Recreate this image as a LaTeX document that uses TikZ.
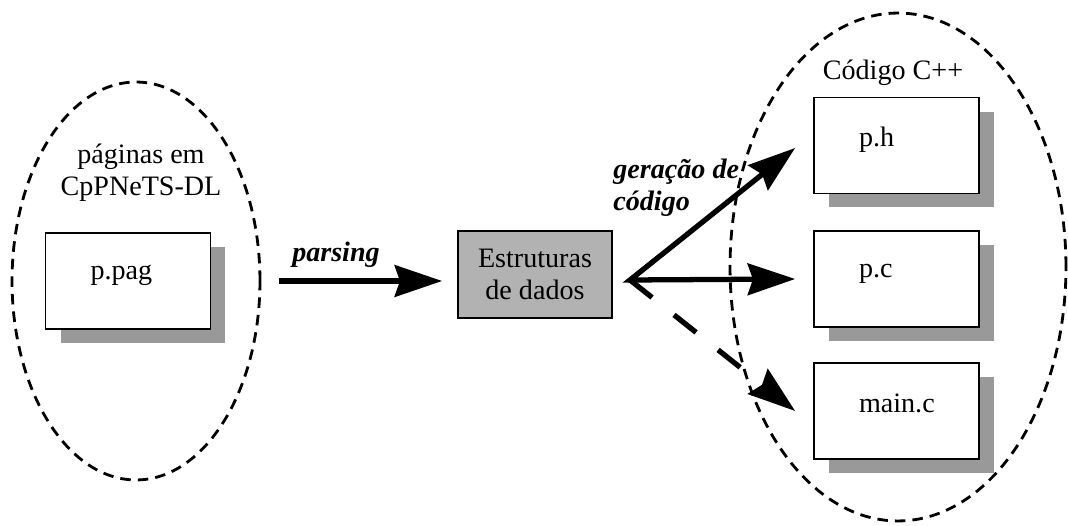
\documentclass[tikz,border=0pt]{standalone}
\usepackage{fontspec}
\setmainfont{Liberation Serif}
\usepackage{tikz}
\usetikzlibrary{positioning}
\usetikzlibrary{arrows.meta,shadows,shapes.geometric}
\tikzstyle{fb} = [rectangle, draw, fill=white, line width=1pt,
    minimum width=3.3cm, minimum height=1.92cm, text width=1.5cm, inner xsep=0.9cm,
    align=left, text depth=0.33cm,
    drop shadow={shadow xshift=0.3cm, shadow yshift=-0.28cm, fill=black!40, opacity=1}]
\tikzstyle{ds} = [rectangle, draw, fill=black!30, line width=1pt,
    minimum width=3.08cm, minimum height=1.74cm, align=center]
\tikzstyle{grp} = [ellipse, draw, line width=1.6pt, dash pattern=on 6pt off 4pt]
\tikzstyle{flow} = [->, line width=3pt]
\tikzstyle{lb} = [font=\fontsize{16}{18}\selectfont\bfseries\itshape]

\begin{document}
\begin{tikzpicture}[x=0.02cm, y=-0.02cm,
                    >={Stealth[length=27pt,width=18pt,inset=3pt]},
                    font=\fontsize{16}{18}\selectfont]
  \useasboundingbox (0,0) rectangle (1068,526);

  % the two groups
  \node[grp, minimum width=4.96cm, minimum height=7.96cm] (pgs) at (136,281) {};
  \node[grp, minimum width=6.72cm, minimum height=10.16cm] (cpp) at (898,267) {};
  \node[align=center] (tpgs) at (141,173) {páginas em\\CpPNeTS-DL};
  \node[anchor=base] (tcpp) at (893,80) {Código C++};

  \node[fb] (pag) at (128,281) {p.pag};
  \node[ds] (dados) at (535,274.5) {Estruturas\\de dados};
  \node[fb] (ph) at (896.5,145.5) {p.h};
  \node[fb] (pc) at (896.5,279) {p.c};
  \node[fb] (mc) at (896.5,411) {main.c};
  \coordinate (fork) at (630,280);

  \draw[flow] ([xshift=0.36cm]pgs.east) -- ([xshift=-0.3cm]dados.west |- pgs.east);
  \draw[flow,<->] ([xshift=-0.36cm,yshift=-0.05cm]ph.west) -- (fork) -- ([xshift=-0.36cm]pc.west);
  \draw[flow, dash pattern=on 16pt off 16pt] (fork) -- ([xshift=-0.36cm]mc.west);

  \node[lb, anchor=base] (tparse) at (336,262) {parsing};
  \node[lb, align=left, anchor=north west, inner sep=0pt] (tger) at (613,159) {geração de\\código};
\end{tikzpicture}
\end{document}
